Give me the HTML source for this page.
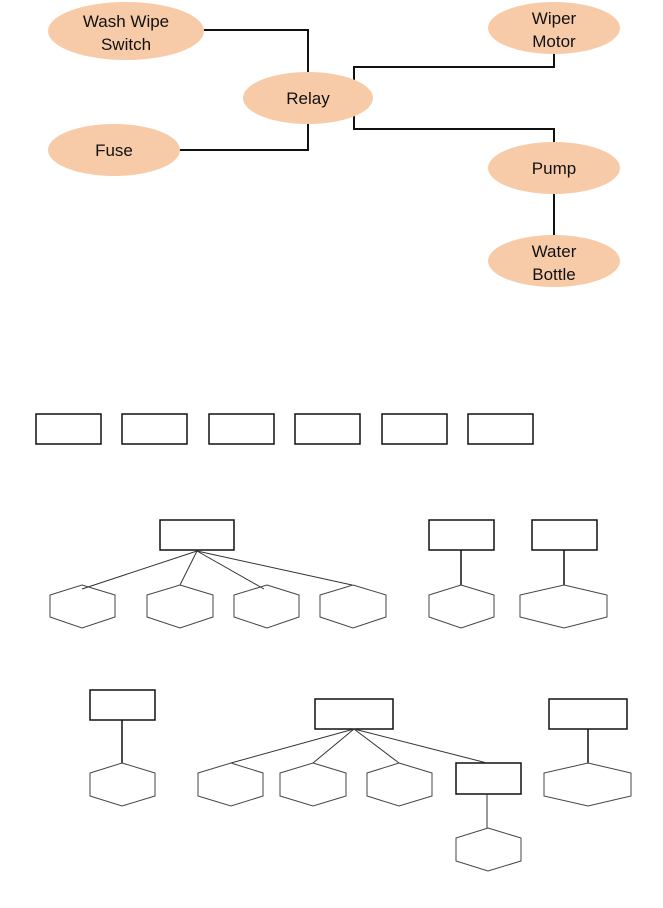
<!DOCTYPE html>
<html><head><meta charset="utf-8"><style>
html,body{margin:0;padding:0;background:#fff;width:663px;height:908px;overflow:hidden}
svg{display:block}
text{font-family:"Liberation Sans Narrow","Liberation Sans",sans-serif;font-size:17px;fill:#111;text-anchor:middle}
</style></head><body>
<svg width="663" height="908" viewBox="0 0 663 908">
<g fill="none" stroke="#111" stroke-width="2">
<polyline points="204,30 308,30 308,73"/>
<polyline points="180,150 308,150 308,124"/>
<polyline points="354,80 354,67 554,67 554,53"/>
<polyline points="354,116 354,129 554,129 554,143"/>
<line x1="554" y1="194" x2="554" y2="236"/>
</g>
<g fill="#f8cba8">
<ellipse cx="126" cy="31" rx="78" ry="29"/>
<ellipse cx="554" cy="28" rx="66" ry="26"/>
<ellipse cx="308" cy="98" rx="65" ry="26"/>
<ellipse cx="114" cy="150" rx="66" ry="26"/>
<ellipse cx="554" cy="168" rx="66" ry="26"/>
<ellipse cx="554" cy="261" rx="66" ry="26"/>
</g>
<text x="126" y="27">Wash Wipe</text><text x="126" y="50">Switch</text>
<text x="554" y="24">Wiper</text><text x="554" y="47">Motor</text>
<text x="308" y="104">Relay</text>
<text x="114" y="156">Fuse</text>
<text x="554" y="174">Pump</text>
<text x="554" y="257">Water</text><text x="554" y="280">Bottle</text>

<g fill="none" stroke="#111" stroke-width="1.5">
<rect x="36" y="414" width="65" height="30"/>
<rect x="122" y="414" width="65" height="30"/>
<rect x="209" y="414" width="65" height="30"/>
<rect x="295" y="414" width="65" height="30"/>
<rect x="382" y="414" width="65" height="30"/>
<rect x="468" y="414" width="65" height="30"/>

<rect x="160" y="520" width="74" height="30"/>
<rect x="429" y="520" width="65" height="30"/>
<rect x="532" y="520" width="65" height="30"/>
<rect x="90" y="690" width="65" height="30"/>
<rect x="315" y="699" width="78" height="30"/>
<rect x="549" y="699" width="78" height="30"/>
<rect x="456" y="763" width="65" height="31"/>
</g>
<g fill="none" stroke="#333" stroke-width="1">
<line x1="197" y1="551" x2="82" y2="589"/>
<line x1="197" y1="551" x2="180" y2="585"/>
<line x1="197" y1="551" x2="264" y2="589"/>
<line x1="197" y1="551" x2="352" y2="585"/>
<line x1="354" y1="729" x2="231" y2="763"/>
<line x1="354" y1="729" x2="313" y2="763"/>
<line x1="354" y1="729" x2="399" y2="763"/>
<line x1="354" y1="729" x2="487" y2="763"/>
<line x1="487" y1="794" x2="487" y2="828"/>
</g>
<g fill="none" stroke="#111" stroke-width="1.5">
<line x1="461" y1="550" x2="461" y2="585"/>
<line x1="564" y1="550" x2="564" y2="585"/>
<line x1="122" y1="720" x2="122" y2="763"/>
<line x1="588" y1="729" x2="588" y2="763"/>
</g>
<g fill="none" stroke="#444" stroke-width="1">
<polygon points="82,585 115,595 115,617 82,628 50,617 50,595"/>
<polygon points="180,585 213,595 213,617 180,628 147,617 147,595"/>
<polygon points="267,585 299,595 299,617 267,628 234,617 234,595"/>
<polygon points="353,585 386,595 386,617 353,628 320,617 320,595"/>
<polygon points="461,585 494,595 494,617 461,628 429,617 429,595"/>
<polygon points="564,585 607,595 607,617 564,628 520,617 520,595"/>
<polygon points="122,763 155,773 155,796 122,806 90,796 90,773"/>
<polygon points="231,763 263,773 263,796 231,806 198,796 198,773"/>
<polygon points="313,763 346,773 346,796 313,806 280,796 280,773"/>
<polygon points="399,763 432,773 432,796 399,806 367,796 367,773"/>
<polygon points="488,828 521,838 521,861 488,871 456,861 456,838"/>
<polygon points="588,763 631,773 631,796 588,806 544,796 544,773"/>
</g>
</svg>
</body></html>
